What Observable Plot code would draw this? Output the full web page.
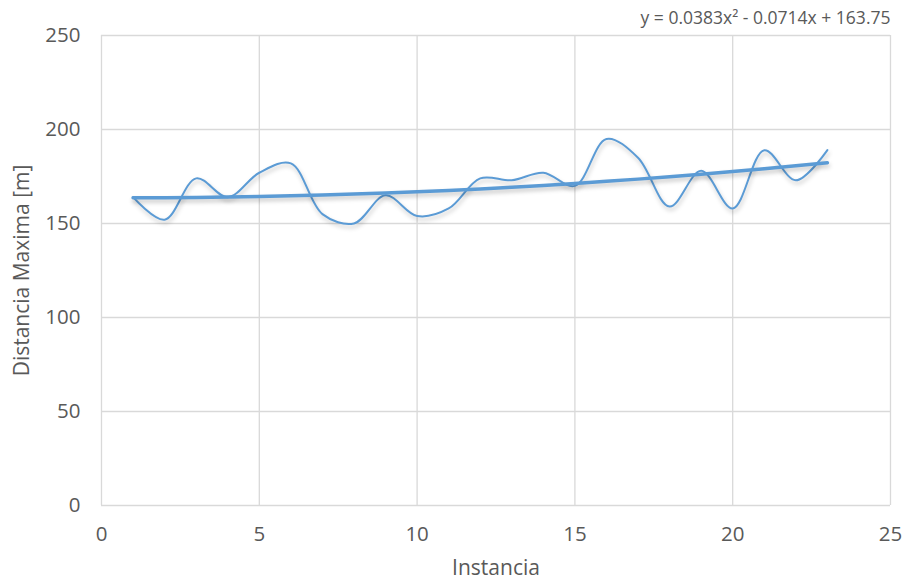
<!DOCTYPE html>
<html>
<head>
<meta charset="utf-8">
<script src="https://cdn.jsdelivr.net/npm/d3@7"></script>
<script src="https://cdn.jsdelivr.net/npm/@observablehq/plot@0.6"></script>
<style>
  html, body { margin: 0; padding: 0; background: #fff; }
  #chart svg { display: block; }
</style>
</head>
<body>
<div id="chart"></div>
<script>
// Instancia (x) and measured maximum distance in metres (y)
const instancia = [1, 2, 3, 4, 5, 6, 7, 8, 9, 10, 11, 12, 13, 14, 15, 16, 17, 18, 19, 20, 21, 22, 23];
const distancia = [164, 152, 174, 164, 177, 182, 155, 150, 165, 154, 158, 174, 173, 177, 170, 195, 185, 159, 178, 158, 189, 173, 189];

// Axis ticks
const xTicks = [0, 5, 10, 15, 20, 25];
const yTicks = [0, 50, 100, 150, 200, 250];

// Polynomial trendline coefficients (a·x² + b·x + c), as printed in the equation
const trendCoef = [0.0383, -0.0714, 163.75];
const trendLabel = "y = 0.0383x² - 0.0714x + 163.75";

const series = instancia.map((x, i) => ({x, y: distancia[i]}));
const trend = instancia.map(x => ({x, y: trendCoef[0] * x * x + trendCoef[1] * x + trendCoef[2]}));

const blue = "#5B9BD5";
const grid = "#d9d9d9";
const ink = "#595959";

const chart = Plot.plot({
  width: 909,
  height: 585,
  marginLeft: 101,
  marginRight: 19,
  marginTop: 35,
  marginBottom: 80,
  style: {fontFamily: "'Open Sans', sans-serif", fontSize: "20.5px", color: ink, background: "#fff"},
  x: {domain: [0, 25]},
  y: {domain: [0, 250]},
  marks: [
    Plot.gridX(xTicks, {stroke: grid, strokeOpacity: 1, strokeWidth: 1.3}),
    Plot.gridY(yTicks, {stroke: grid, strokeOpacity: 1, strokeWidth: 1.3}),
    Plot.axisX(xTicks, {tickSize: 0, tickPadding: 21, label: null, fill: ink, fontSize: 20.5}),
    Plot.axisY(yTicks, {tickSize: 0, tickPadding: 21, label: null, fill: ink, fontSize: 20.5}),
    Plot.line(series, {x: "x", y: "y", curve: "catmull-rom", stroke: blue, strokeWidth: 2}),
    Plot.line(trend, {x: "x", y: "y", curve: "linear", stroke: blue, strokeWidth: 3.5}),
    Plot.text([trendLabel], {text: d => d, frameAnchor: "top-right", textAnchor: "end", dy: -24, fontSize: 17.5, fill: ink}),
    Plot.text(["Instancia"], {text: d => d, frameAnchor: "bottom", textAnchor: "middle", dy: 69, fontSize: 21, fill: ink}),
    Plot.text(["Distancia Maxima [m]"], {text: d => d, frameAnchor: "left", textAnchor: "middle", rotate: -90, dx: -79, fontSize: 21, fill: ink})
  ]
});

// soft drop shadow under the two curves
d3.select(chart).selectAll("g[aria-label='line']")
  .style("filter", "drop-shadow(1px 3px 2px rgba(0,0,0,0.22))");

document.getElementById("chart").append(chart);
</script>
</body>
</html>
